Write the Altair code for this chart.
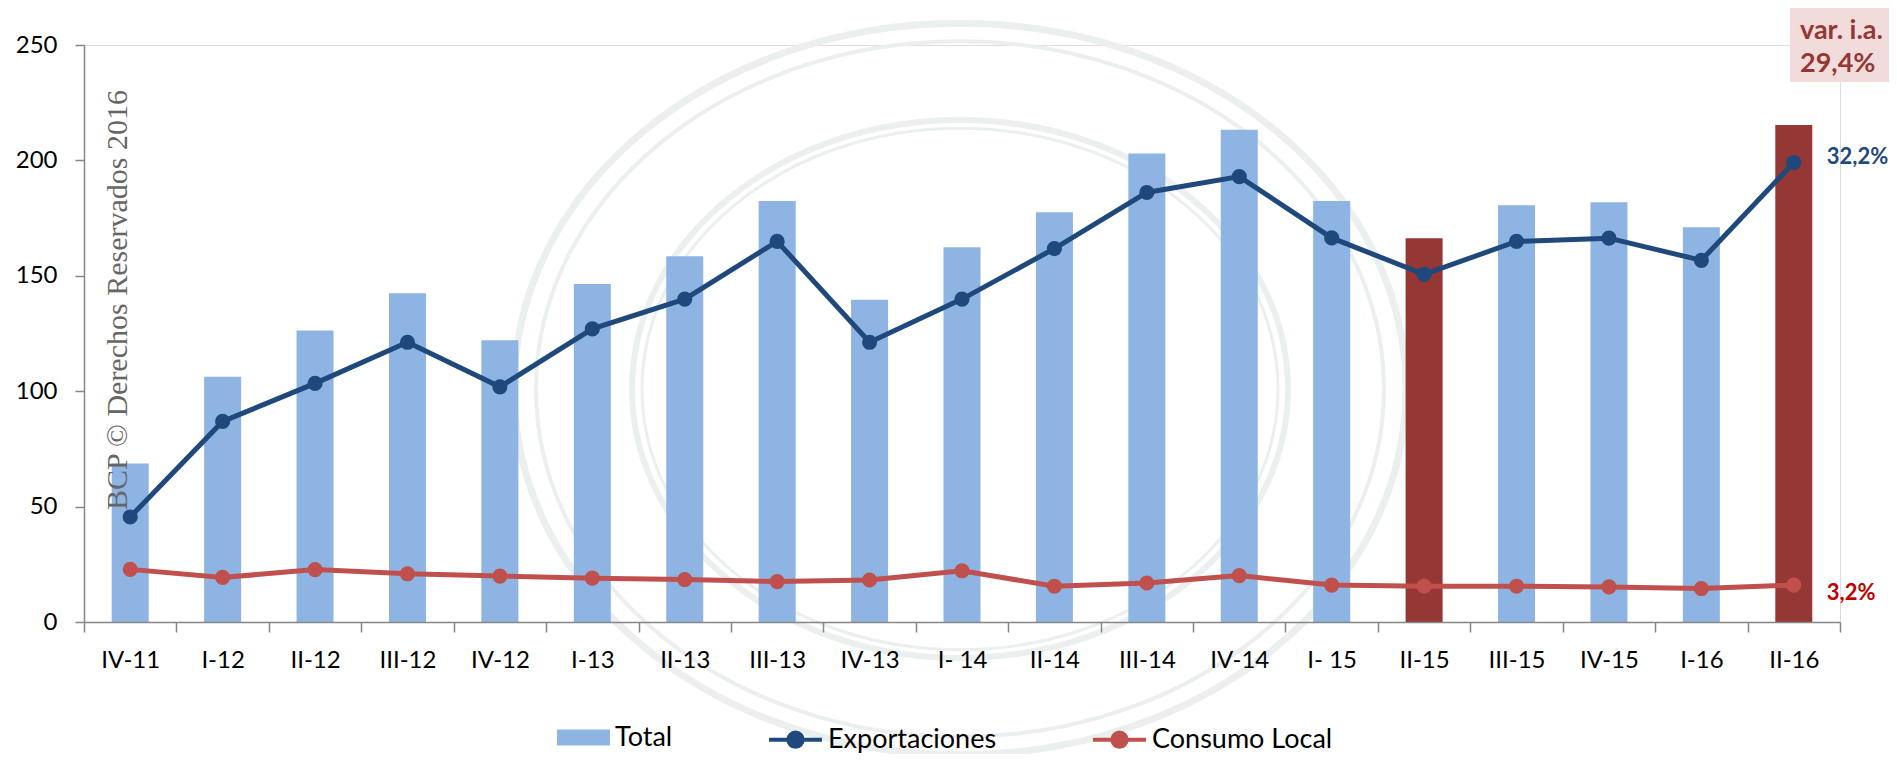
import altair as alt
import pandas as pd

# ---- data ----
categories = ["IV-11", "I-12", "II-12", "III-12", "IV-12", "I-13", "II-13", "III-13",
              "IV-13", "I- 14", "II-14", "III-14", "IV-14", "I- 15", "II-15", "III-15",
              "IV-15", "I-16", "II-16"]
total = [68.7, 106.3, 126.3, 142.4, 122.1, 146.4, 158.5, 182.4, 139.6, 162.4,
         177.5, 203.0, 213.3, 182.4, 166.3, 180.6, 181.9, 171.0, 215.3]
exportaciones = [45.5, 86.9, 103.4, 121.2, 101.9, 127.0, 139.9, 164.9, 121.2, 139.9,
                 161.8, 186.1, 193.0, 166.4, 150.6, 164.9, 166.3, 156.7, 199.1]
consumo = [22.8, 19.3, 22.7, 20.9, 19.9, 19.0, 18.4, 17.5, 18.2, 22.2,
           15.5, 16.9, 20.1, 16.0, 15.5, 15.5, 15.2, 14.5, 16.0]
highlighted = ["II-15", "II-16"]
bar_name = ["Total"]
bar_color = ["#8EB4E3"]
line_names = ["Exportaciones", "Consumo Local"]
line_colors = ["#1F497D", "#C0504D"]
highlight_color = "#953735"
label_exp = "32,2%"
label_con = "3,2%"
box_lines = ["var. i.a.", "29,4%"]
watermark = "BCP © Derechos Reservados 2016"

FONT = "Lato"

bars_df = pd.DataFrame({"cat": categories, "value": total, "serie": bar_name[0]})
lines_df = pd.concat([
    pd.DataFrame({"cat": categories, "value": exportaciones, "serie": line_names[0]}),
    pd.DataFrame({"cat": categories, "value": consumo, "serie": line_names[1]}),
])

xscale = alt.Scale(domain=categories, paddingInner=0, paddingOuter=0)
yscale = alt.Scale(domain=[0, 250], nice=False)

x_axis = alt.Axis(title=None, labelAngle=0, tickBand="extent", tickSize=10,
                  tickColor="#868686", domainColor="#868686", domainWidth=1.5,
                  tickWidth=1.5, labelFont=FONT, labelFontSize=24, labelColor="#000000",
                  labelPadding=16, grid=False, zindex=1)
y_axis = alt.Axis(title=None, values=[0, 50, 100, 150, 200, 250], tickSize=9,
                  tickColor="#868686", domainColor="#868686", domainWidth=1.5,
                  tickWidth=1.5, labelFont=FONT, labelFontSize=24, labelColor="#000000",
                  labelPadding=18, grid=False, zindex=1)

rect_path = "M-1,-0.3H1V0.3H-1Z"
# line with a solid dot drawn as concentric rings
line_path = ("M-1,0H1"
             "M0.27,0A0.27,0.27 0 1,1 -0.27,0A0.27,0.27 0 1,1 0.27,0"
             "M0.19,0A0.19,0.19 0 1,1 -0.19,0A0.19,0.19 0 1,1 0.19,0"
             "M0.11,0A0.11,0.11 0 1,1 -0.11,0A0.11,0.11 0 1,1 0.11,0"
             "M0.04,0A0.04,0.04 0 1,1 -0.04,0A0.04,0.04 0 1,1 0.04,0")
ellipse_path = "M1,0A1,0.82 0 1,1 -1,0A1,0.82 0 1,1 1,0Z"

legend_bar = alt.Legend(
    title=None, orient="none", direction="horizontal", legendX=473, legendY=666,
    symbolType=rect_path, symbolSize=2800, symbolStrokeWidth=0, symbolOpacity=1,
    labelFont=FONT, labelFontSize=27, labelColor="#000000", labelOffset=5, labelLimit=400,
)
legend_line = alt.Legend(
    title=None, orient="none", direction="horizontal", legendX=683, legendY=666,
    symbolType=line_path, symbolSize=2800, symbolStrokeWidth=4, symbolOpacity=1,
    labelFont=FONT, labelFontSize=27, labelColor="#000000", labelOffset=4,
    columnPadding=88, labelLimit=400,
)

# faint seal rings in the background (decoration)
seal_rx = [446, 424, 328, 318]
seal_w = [7, 4, 6, 3]
seal_df = pd.DataFrame({"size": [(2 * r) ** 2 for r in seal_rx], "w": seal_w})
seal = alt.Chart(seal_df).mark_point(
    shape=ellipse_path, filled=False, color="#EBEFEF", opacity=1
).encode(
    x=alt.value(876), y=alt.value(344),
    size=alt.Size("size:Q", scale=None, legend=None),
    strokeWidth=alt.StrokeWidth("w:Q", scale=None, legend=None),
)

wm = alt.Chart(pd.DataFrame({"t": [watermark]})).mark_text(
    font="Liberation Serif", fontSize=30, angle=270, color="#666666",
    align="center", baseline="middle"
).encode(x=alt.value(34), y=alt.value(255), text="t:N")

bars = alt.Chart(bars_df).mark_bar(size=37).encode(
    x=alt.X("cat:N", scale=xscale, axis=x_axis, sort=categories),
    y=alt.Y("value:Q", scale=yscale, axis=y_axis),
    fill=alt.condition(
        alt.FieldOneOfPredicate(field="cat", oneOf=highlighted),
        alt.value(highlight_color),
        alt.Fill("serie:N", scale=alt.Scale(domain=bar_name, range=bar_color), legend=legend_bar),
    ),
)

lines = alt.Chart(lines_df).mark_line(strokeWidth=5).encode(
    x=alt.X("cat:N", scale=xscale, sort=categories),
    y=alt.Y("value:Q", scale=yscale),
    stroke=alt.Stroke("serie:N", scale=alt.Scale(domain=line_names, range=line_colors),
                      legend=legend_line),
)

points = alt.Chart(lines_df).mark_point(filled=True, size=230, opacity=1, shape="circle").encode(
    x=alt.X("cat:N", scale=xscale, sort=categories),
    y=alt.Y("value:Q", scale=yscale),
    color=alt.Color("serie:N", scale=alt.Scale(domain=line_names, range=line_colors), legend=None),
)

last_exp = pd.DataFrame({"cat": [categories[-1]], "value": [exportaciones[-1]], "t": [label_exp]})
last_con = pd.DataFrame({"cat": [categories[-1]], "value": [consumo[-1]], "t": [label_con]})

t_exp = alt.Chart(last_exp).mark_text(
    font=FONT, fontSize=22, fontWeight="bold", color="#1F497D",
    align="left", baseline="alphabetic", dx=33, dy=2
).encode(x=alt.X("cat:N", scale=xscale, sort=categories), y=alt.Y("value:Q", scale=yscale), text="t:N")

t_con = alt.Chart(last_con).mark_text(
    font=FONT, fontSize=22, fontWeight="bold", color="#C00000",
    align="left", baseline="alphabetic", dx=33, dy=15
).encode(x=alt.X("cat:N", scale=xscale, sort=categories), y=alt.Y("value:Q", scale=yscale), text="t:N")

box = alt.Chart(pd.DataFrame({"k": [0]})).mark_rect(color="#F2DCDB").encode(
    x=alt.value(1706), x2=alt.value(1805), y=alt.value(-41), y2=alt.value(37)
)
box_t1 = alt.Chart(pd.DataFrame({"t": [box_lines[0]]})).mark_text(
    font=FONT, fontSize=27, fontWeight="bold", color=highlight_color,
    align="left", baseline="alphabetic"
).encode(x=alt.value(1716), y=alt.value(-6), text="t:N")
box_t2 = alt.Chart(pd.DataFrame({"t": [box_lines[1]]})).mark_text(
    font=FONT, fontSize=27, fontWeight="bold", color=highlight_color,
    align="left", baseline="alphabetic"
).encode(x=alt.value(1716), y=alt.value(27), text="t:N")

chart = alt.layer(seal, bars, lines, points, wm, t_exp, t_con, box, box_t1, box_t2).properties(
    width=1756, height=577,
    padding={"left": 76, "top": 37, "right": 49, "bottom": 132},
    autosize="none",
).configure_view(stroke=None).configure(background="white")

chart.save("out.html", embed_options={"renderer": "svg", "actions": False})
